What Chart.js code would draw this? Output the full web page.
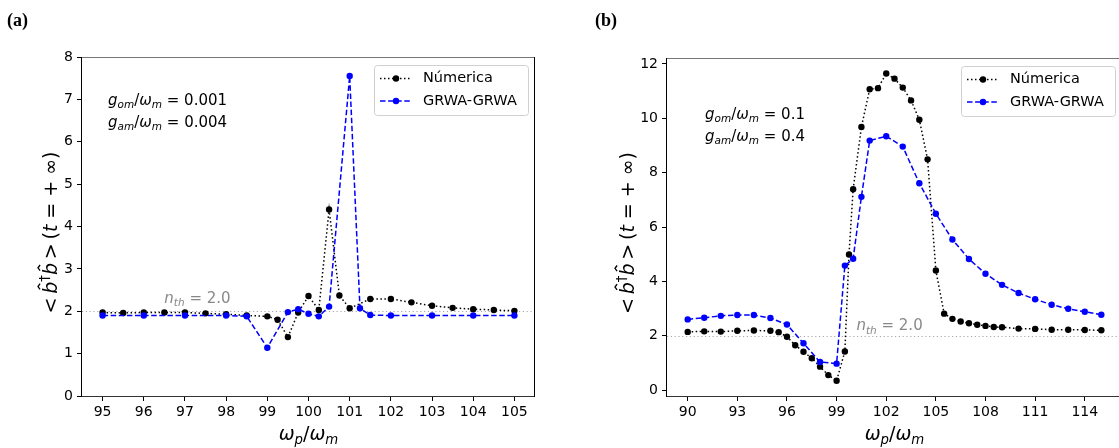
<!DOCTYPE html>
<html lang="en">
<head>
    <meta charset="UTF-8">
    <script src="https://cdn.jsdelivr.net/npm/chart.js"></script>
    <style>
        body { margin: 0; background: #fff; }
        #wrap { position: relative; width: 1119px; height: 448px; overflow: hidden; }
        canvas { position: absolute; top: 0; }
        #left { left: 0; }
        #right { left: 560px; }
    </style>
</head>
<body>
    <div id="wrap">
        <canvas id="left" width="560" height="448"></canvas>
        <canvas id="right" width="580" height="448"></canvas>
    </div>

    <script>
        // panel (a)
        const leftNumX = [95, 95.5, 96, 96.5, 97, 97.5, 98, 98.5, 99, 99.25, 99.5, 99.75, 100, 100.25, 100.5, 100.75, 101, 101.5, 102, 102.5, 103, 103.5, 104, 104.5, 105];
        const leftNumY = [1.97, 1.96, 1.97, 1.97, 1.97, 1.95, 1.93, 1.90, 1.88, 1.80, 1.39, 1.97, 2.36, 2.03, 4.40, 2.37, 2.07, 2.29, 2.29, 2.21, 2.13, 2.08, 2.05, 2.03, 2.01];
        const leftGrwaX = [95, 96, 97, 98, 98.5, 99, 99.5, 99.75, 100, 100.25, 100.5, 101, 101.25, 101.5, 102, 103, 104, 105];
        const leftGrwaY = [1.90, 1.90, 1.90, 1.90, 1.88, 1.14, 1.98, 2.05, 1.94, 1.88, 2.11, 7.55, 2.07, 1.91, 1.90, 1.90, 1.90, 1.90];
        const leftXTicks = [95, 96, 97, 98, 99, 100, 101, 102, 103, 104, 105];
        const leftYTicks = [0, 1, 2, 3, 4, 5, 6, 7, 8];

        // panel (b)
        const rightNumX = [90, 91, 92, 93, 94, 95, 95.5, 96, 96.5, 97, 97.5, 98, 98.5, 99, 99.5, 99.75, 100, 100.5, 101, 101.5, 102, 102.5, 103, 103.5, 104, 104.5, 105, 105.5, 106, 106.5, 107, 107.5, 108, 108.5, 109, 110, 111, 112, 113, 114, 115];
        const rightNumY = [2.14, 2.16, 2.15, 2.18, 2.19, 2.18, 2.13, 1.96, 1.65, 1.41, 1.17, 0.86, 0.55, 0.34, 1.42, 4.99, 7.39, 9.68, 11.07, 11.11, 11.65, 11.46, 11.13, 10.66, 9.95, 8.49, 4.40, 2.81, 2.62, 2.52, 2.46, 2.40, 2.36, 2.32, 2.31, 2.26, 2.25, 2.22, 2.22, 2.21, 2.20];
        const rightGrwaX = [90, 91, 92, 93, 94, 95, 96, 97, 98, 99, 99.5, 100, 100.5, 101, 102, 103, 104, 105, 106, 107, 108, 109, 110, 111, 112, 113, 114, 115];
        const rightGrwaY = [2.60, 2.66, 2.73, 2.76, 2.76, 2.65, 2.41, 1.72, 1.03, 0.97, 4.58, 4.83, 7.11, 9.18, 9.34, 8.96, 7.61, 6.49, 5.54, 4.82, 4.28, 3.87, 3.57, 3.34, 3.14, 2.99, 2.88, 2.77];
        const rightXTicks = [90, 93, 96, 99, 102, 105, 108, 111, 114];
        const rightYTicks = [0, 2, 4, 6, 8, 10, 12];

        const seriesNames = ['Númerica', 'GRWA-GRWA'];
        const nth = 2.0;

        const FONT = '"DejaVu Sans", sans-serif';

        // draw a run of text pieces (italic / sub / sup / hat) like mathtext
        function drawSegs(ctx, x, y, segs, size, color, align) {
            let w = 0;
            const parts = segs.map(s => {
                const sz = (s.sub || s.sup) ? size * 0.7 : size;
                const f = (s.it ? 'italic ' : '') + sz + 'px ' + FONT;
                ctx.font = f;
                const mw = ctx.measureText(s.t).width;
                w += mw;
                return { s, f, mw };
            });
            let cx = align === 'center' ? x - w / 2 : x;
            ctx.fillStyle = color;
            ctx.strokeStyle = color;
            ctx.textAlign = 'left';
            ctx.textBaseline = 'alphabetic';
            parts.forEach(p => {
                ctx.font = p.f;
                const dy = p.s.sub ? size * 0.22 : (p.s.sup ? -size * 0.42 : 0);
                ctx.fillText(p.s.t, cx, y + dy);
                if (p.s.hat) {
                    const hx = cx + p.mw * 0.6, hy = y - size * 1.0;
                    ctx.lineWidth = size * 0.07;
                    ctx.setLineDash([]);
                    ctx.beginPath();
                    ctx.moveTo(hx - size * 0.15, hy + size * 0.11);
                    ctx.lineTo(hx, hy);
                    ctx.lineTo(hx + size * 0.15, hy + size * 0.11);
                    ctx.stroke();
                }
                cx += p.mw;
            });
        }

        const yLabel = [
            { t: '<\u2009' }, { t: 'b', it: true, hat: true }, { t: '\u2020', sup: true }, { t: 'b', it: true, hat: true },
            { t: '\u2009>\u2009' }, { t: '(' }, { t: 't', it: true }, { t: ' = + ' }, { t: '\u221e' }, { t: ')' }
        ];
        const xLabel = [{ t: 'ω', it: true }, { t: 'p', it: true, sub: true }, { t: '/' }, { t: 'ω', it: true }, { t: 'm', it: true, sub: true }];
        const nthLabel = [{ t: 'n', it: true }, { t: 'th', it: true, sub: true }, { t: ' = ' + nth.toFixed(1) }];

        function coupling(name, val) {
            return [{ t: 'g', it: true }, { t: name, it: true, sub: true }, { t: '/' }, { t: 'ω', it: true }, { t: 'm', it: true, sub: true }, { t: ' = ' + val }];
        }

        const decor = {
            id: 'decor',
            beforeDatasetsDraw(chart, args, o) {
                const ctx = chart.ctx, a = chart.chartArea;
                const y = chart.scales.y.getPixelForValue(nth);
                ctx.save();
                ctx.beginPath();
                ctx.rect(a.left, a.top, a.right - a.left, a.bottom - a.top);
                ctx.clip();
                ctx.strokeStyle = '#a8a8a8';
                ctx.lineWidth = 1;
                ctx.setLineDash([1.2, 2.6]);
                ctx.beginPath();
                ctx.moveTo(a.left, Math.round(y) + 0.5);
                ctx.lineTo(a.right, Math.round(y) + 0.5);
                ctx.stroke();
                ctx.restore();
            },
            afterDraw(chart, args, o) {
                const ctx = chart.ctx, a = chart.chartArea;
                const sx = chart.scales.x, sy = chart.scales.y;
                ctx.save();
                // spines
                ctx.lineWidth = 1;
                ctx.strokeStyle = '#777';
                ctx.beginPath(); ctx.moveTo(a.left, a.top + 0.5); ctx.lineTo(a.right, a.top + 0.5); ctx.stroke();
                ctx.strokeStyle = '#333';
                ctx.beginPath(); ctx.moveTo(a.left, a.bottom + 0.5); ctx.lineTo(a.right, a.bottom + 0.5); ctx.stroke();
                ctx.strokeStyle = '#000';
                ctx.beginPath(); ctx.moveTo(a.left - 0.5, a.top); ctx.lineTo(a.left - 0.5, a.bottom + 1); ctx.stroke();
                ctx.beginPath(); ctx.moveTo(a.right - 0.5, a.top); ctx.lineTo(a.right - 0.5, a.bottom + 1); ctx.stroke();

                // n_th label
                drawSegs(ctx, sx.getPixelForValue(o.nthX), sy.getPixelForValue(nth + 0.2), nthLabel, 15, '#888', 'left');

                // couplings
                drawSegs(ctx, a.left + o.textDx, a.top + o.textDy, coupling('om', o.gom), 15, '#000', 'left');
                drawSegs(ctx, a.left + o.textDx, a.top + o.textDy + 22, coupling('am', o.gam), 15, '#000', 'left');

                // legend
                const w = 154, h = 50;
                const x0 = a.right - 7 - w, y0 = a.top + 8;
                ctx.setLineDash([]);
                ctx.fillStyle = 'rgba(255,255,255,0.85)';
                ctx.strokeStyle = '#d0d0d0';
                ctx.lineWidth = 1;
                ctx.beginPath();
                ctx.roundRect(x0 + 0.5, y0 + 0.5, w, h, 3);
                ctx.fill();
                ctx.stroke();
                chart.data.datasets.forEach((ds, i) => {
                    const yy = y0 + 13.5 + i * 22.5;
                    ctx.strokeStyle = ds.borderColor;
                    ctx.lineWidth = 1.5;
                    ctx.setLineDash(ds.borderDash);
                    ctx.beginPath(); ctx.moveTo(x0 + 6, yy); ctx.lineTo(x0 + 38, yy); ctx.stroke();
                    ctx.setLineDash([]);
                    ctx.fillStyle = ds.borderColor;
                    ctx.beginPath(); ctx.arc(x0 + 22, yy, 3.2, 0, Math.PI * 2); ctx.fill();
                    ctx.fillStyle = '#000';
                    ctx.font = '14.5px ' + FONT;
                    ctx.textAlign = 'left';
                    ctx.textBaseline = 'middle';
                    ctx.fillText(ds.label, x0 + 49, yy);
                });

                // axis titles
                drawSegs(ctx, (a.left + a.right) / 2, 440, xLabel, 19, '#000', 'center');
                ctx.save();
                ctx.translate(o.yLabelX, (a.top + a.bottom) / 2 + 6);
                ctx.rotate(-Math.PI / 2);
                drawSegs(ctx, 0, 7, yLabel, 19, '#000', 'center');
                ctx.restore();

                // panel letter
                ctx.font = 'bold 18px "Liberation Serif", serif';
                ctx.fillStyle = '#000';
                ctx.textAlign = 'left';
                ctx.textBaseline = 'middle';
                ctx.fillText(o.panel, o.panelX, 21);
                ctx.restore();
            }
        };

        function makeChart(id, numX, numY, grwaX, grwaY, xTicks, yTicks, xr, yr, yw, pad, opts) {
            const ctx = document.getElementById(id).getContext('2d');
            return new Chart(ctx, {
                type: 'line',
                data: {
                    datasets: [{
                        label: seriesNames[0],
                        data: numX.map((x, i) => ({ x: x, y: numY[i] })),
                        borderColor: '#000000',
                        backgroundColor: '#000000',
                        borderWidth: 1.5,
                        borderDash: [1.5, 2.5],
                        pointRadius: 3.2,
                        pointBorderWidth: 0,
                        tension: 0,
                        order: 2
                    }, {
                        label: seriesNames[1],
                        data: grwaX.map((x, i) => ({ x: x, y: grwaY[i] })),
                        borderColor: '#0000ff',
                        backgroundColor: '#0000ff',
                        borderWidth: 1.5,
                        borderDash: [5.5, 2.6],
                        pointRadius: 3.2,
                        pointBorderWidth: 0,
                        tension: 0,
                        order: 1
                    }]
                },
                options: {
                    responsive: false,
                    animation: false,
                    devicePixelRatio: 1,
                    layout: { padding: pad },
                    plugins: {
                        legend: { display: false },
                        tooltip: { enabled: false },
                        decor: opts
                    },
                    scales: {
                        x: {
                            type: 'linear',
                            min: xr[0],
                            max: xr[1],
                            afterBuildTicks: s => { s.ticks = xTicks.map(v => ({ value: v })); },
                            afterFit: s => { s.height = 52; },
                            border: { display: false },
                            grid: { drawOnChartArea: false, drawTicks: true, tickLength: 5, color: '#000' },
                            ticks: { font: { family: 'DejaVu Sans', size: 14 }, color: '#000', padding: 3, maxRotation: 0, autoSkip: false }
                        },
                        y: {
                            min: yr[0],
                            max: yr[1],
                            afterBuildTicks: s => { s.ticks = yTicks.map(v => ({ value: v })); },
                            afterFit: s => { s.width = yw; },
                            border: { display: false },
                            grid: { drawOnChartArea: false, drawTicks: true, tickLength: 5, color: '#000' },
                            ticks: { font: { family: 'DejaVu Sans', size: 14 }, color: '#000', padding: 4, autoSkip: false }
                        }
                    }
                },
                plugins: [decor]
            });
        }

        makeChart('left', leftNumX, leftNumY, leftGrwaX, leftGrwaY, leftXTicks, leftYTicks,
            [94.5, 105.5], [0, 8], 82, { left: 0, right: 25, top: 57, bottom: 0 },
            { nthX: 96.5, textDx: 26, textDy: 48, gom: '0.001', gam: '0.004', yLabelX: 50, panel: '(a)', panelX: 7 });

        makeChart('right', rightNumX, rightNumY, rightGrwaX, rightGrwaY, rightXTicks, rightYTicks,
            [88.75, 116.25], [-0.22, 12.22], 107, { left: 0, right: 18, top: 58, bottom: 0 },
            { nthX: 100.2, textDx: 38, textDy: 61, gom: '0.1', gam: '0.4', yLabelX: 67, panel: '(b)', panelX: 35 });
    </script>
</body>
</html>
